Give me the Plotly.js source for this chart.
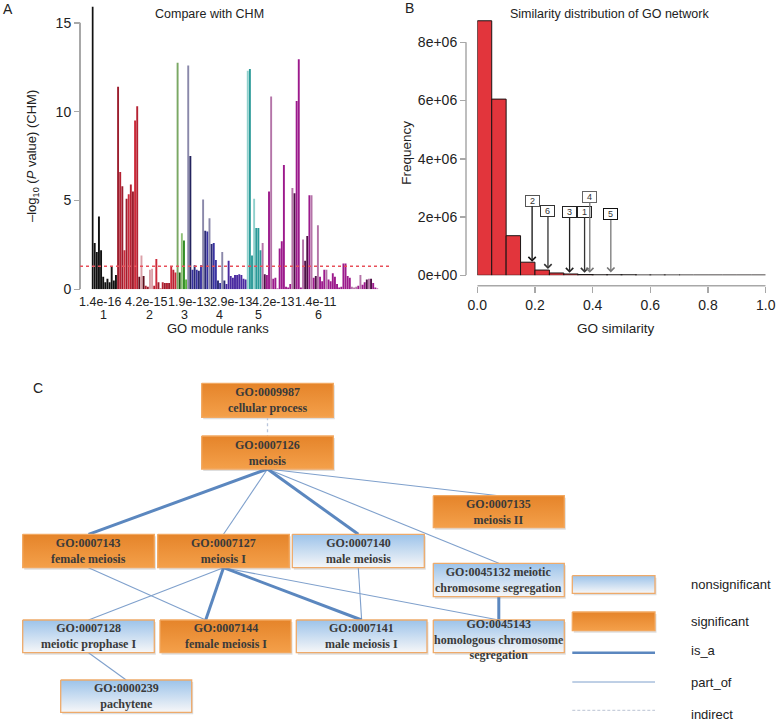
<!DOCTYPE html>
<html><head><meta charset="utf-8">
<script src="https://cdn.plot.ly/plotly-3.0.1.min.js"></script>
<style>body{margin:0;background:#fff}#g{width:778px;height:722px}</style>
</head><body><div id="g"></div>
<script>
// ================= DATA =================
// Panel A: -log10(P value) (CHM) per GO term, grouped by GO module
const mod1Vals = [15.9, 2.6, 2.1, 4.1, 2.2, 0.7, 0.4, 0.6, 0.4, 1.3, 0.5, 0.8];
const mod2Vals = [11.4, 6.6, 5.8, 2.2, 5.1, 5.35, 5.9, 5.5, 9.5, 10.3, 0.7, 1.9, 0.75, 0.2, 0.15, 1.1, 1.15, 0.2, 1.7, 0.4, 0.05, 0.4, 0.35, 0.35, 0.35, 1.3, 1.1, 0.95];
const mod3Vals = [12.75, 0.95, 3.15, 2.75, 0.55];
const mod4Vals = [12.6, 7.5, 1.1, 1.35, 1.1, 1.05, 1.35, 5.05, 3.3, 3.25, 4.0, 2.55, 2.6, 1.65, 0.5, 0.35, 2.1, 0.5, 0.3, 1.6, 0.75, 0.65, 0.8, 0.8, 0.85, 0.8, 0.6, 0.55];
const mod5Vals = [12.3, 12.4, 1.9, 5.1, 3.45, 3.45, 2.2];
const mod6Vals = [2.6, 0.85, 0.8, 5.5, 10.85, 0.6, 0.65, 0.05, 2.3, 2.7, 7.0, 0.15, 0.1, 0.3, 5.7, 5.4, 10.6, 12.95, 0.1, 2.8, 1.6, 3.0, 5.3, 5.3, 0.65, 0.75, 3.6, 0.7, 0.45, 1.1, 1.1, 0.55, 0.45, 0.9, 0.7, 0.3, 0.1, 0.15, 1.45, 1.45, 0.75, 0.65, 0.15, 0.1, 0.15, 0.2, 0.8, 0.25, 0.4, 0.55, 0.6, 0.6, 0.35, 0.1, 0.05];
const modulePvalLabels = ['1.4e-16', '4.2e-15', '1.9e-13', '2.9e-13', '4.2e-13', '1.4e-11'];
const moduleRankLabels = ['1', '2', '3', '4', '5', '6'];
const pThreshold = 1.3; // -log10(0.05)

// Panel B: histogram of GO similarity (bins of 0.05 from 0 to 1)
const simBinWidth = 0.05;
const simFreq = [8740000, 6050000, 1360000, 450000, 180000, 80000, 45000, 12000, 6000, 3000, 1500, 800, 400, 200, 100, 50, 30, 20, 10, 5];
const arrowModules = ['2', '6', '3', '1', '4', '5'];
const arrowSim = [0.19, 0.245, 0.32, 0.372, 0.39, 0.463];

// Panel C: GO network
const nodeIds = ['GO:0009987','GO:0007126','GO:0007143','GO:0007127','GO:0007140','GO:0007135','GO:0045132','GO:0007128','GO:0007144','GO:0007141','GO:0045143','GO:0000239'];
const nodeNames = ['cellular process','meiosis','female meiosis','meiosis I','male meiosis','meiosis II','meiotic chromosome segregation','meiotic prophase I','female meiosis I','male meiosis I','homologous chromosome segregation','pachytene'];
const nodeSignificant = [1,1,1,1,0,1,0,0,1,0,0,0];
const edgeFrom = ['GO:0009987','GO:0007126','GO:0007126','GO:0007126','GO:0007126','GO:0007126','GO:0007143','GO:0007127','GO:0007127','GO:0007127','GO:0007127','GO:0007140','GO:0045132','GO:0007128'];
const edgeTo   = ['GO:0007126','GO:0007143','GO:0007127','GO:0007140','GO:0007135','GO:0045132','GO:0007144','GO:0007128','GO:0007144','GO:0007141','GO:0045143','GO:0007141','GO:0045143','GO:0000239'];
const edgeType = ['indirect','is_a','part_of','is_a','part_of','part_of','part_of','part_of','is_a','is_a','part_of','part_of','is_a','part_of'];
const legendLabels = ['nonsignificant','significant','is_a','part_of','indirect'];

// ================= STYLE / LAYOUT =================
const W = 778, H = 722;
const px = v => v / W;          // pixel x -> paper
const py = v => 1 - v / H;      // pixel y -> paper
const FONT = 'Liberation Sans, Arial, sans-serif';
const SERIF = 'Liberation Serif, Times New Roman, serif';

const shadeMap = {
  k:'#111111',
  M:'#9c1e2e', R:'#b52232', B:'#cc2a3a', K:'#5e0e1c', P:'#dba0a8',
  G:'#8a88aa', N:'#24245e', U:'#3832a0', D:'#2a2a72', V:'#4a2aa0',
  T:'#2a9a98', L:'#8fd0cc',
  m:'#9c1a8c', l:'#b474a8', d:'#4e1046'
};
const mod1Shade = 'kkkkkkkkkkkk';
const mod2Shade = 'MRMBMBRMBRKPKRMPPRBMRRMRMBRB';
const mod3Colors = ['#7aa864','#1f5a16','#8fc078','#2f8c22','#5ab23e'];
const mod4Shade = 'GNUDUDUGDUGDUUDUGDVVVVVVVVVV';
const mod5Shade = 'LTTLTTT';
const mod6Shade = 'ldmmlmmmmmmmmmldmmmlddmlmdlmmmlmmmmmmmmmmmlllmlmmdldmmm';

const allVals = [].concat(mod1Vals, mod2Vals, mod3Vals, mod4Vals, mod5Vals, mod6Vals);
const colorsFrom = s => s.split('').map(c => shadeMap[c]);
const allColors = [].concat(colorsFrom(mod1Shade), colorsFrom(mod2Shade), mod3Colors,
  colorsFrom(mod4Shade), colorsFrom(mod5Shade), colorsFrom(mod6Shade));
const nBars = allVals.length;

const traces = [];
traces.push({
  type:'bar', x: allVals.map((_, i) => i), y: allVals,
  marker:{color: allColors, line:{width:0}},
  xaxis:'x', yaxis:'y', hoverinfo:'skip'
});

traces.push({
  type:'bar', x: simFreq.map((_, i) => (i + 0.5) * simBinWidth), y: simFreq,
  width: simBinWidth,
  marker:{color:'#e2353c', line:{color:'#1a1414', width: simFreq.map((_, i) => i < 7 ? 1 : 1.8)}},
  xaxis:'x2', yaxis:'y2', hoverinfo:'skip'
});

// Panel C node geometry (pixels): [x0, x1, y0, y1]
const nodeBox = {
  'GO:0009987':[201.7,333.3,383.3,417.3],
  'GO:0007126':[201.7,333.3,436,469],
  'GO:0007143':[22.7,154.3,534.3,567.7],
  'GO:0007127':[157.7,289.3,534.3,567.7],
  'GO:0007140':[292.3,424.3,534.3,567.7],
  'GO:0007135':[433.3,564.3,495.7,527.7],
  'GO:0045132':[433.3,564.3,563.3,596.7],
  'GO:0007128':[22.7,154.3,620,652.7],
  'GO:0007144':[160,291,620,652.7],
  'GO:0007141':[296.3,427,620,652.7],
  'GO:0045143':[433.3,564.3,620,652.7],
  'GO:0000239':[60.7,191.7,680,712.3]
};
const topAnchorX = {'GO:0007144':205.7};
const labelOverride = {
  'GO:0045132':'GO:0045132 meiotic<br>chromosome segregation',
  'GO:0045143':'GO:0045143<br>homologous chromosome<br>segregation'
};
const edgeStyle = {
  is_a:{color:'#5b87bf', width:3, dash:'solid'},
  part_of:{color:'#7fa0cc', width:1.1, dash:'solid'},
  indirect:{color:'#b9c5dc', width:1.3, dash:'3px,3px'}
};
const orangeScale = [[0,'#f4a04a'],[1,'#e5842a']];
const blueScale = [[0,'#f7f7f8'],[1,'#9cc3ea']];

// edges
['indirect','part_of','is_a'].forEach(t => {
  const xs = [], ys = [];
  edgeType.forEach((et, i) => {
    if (et !== t) return;
    const a = nodeBox[edgeFrom[i]], b = nodeBox[edgeTo[i]];
    xs.push((a[0]+a[1])/2, topAnchorX[edgeTo[i]] !== undefined ? topAnchorX[edgeTo[i]] : (b[0]+b[1])/2, null);
    ys.push(a[3], b[2], null);
  });
  traces.push({type:'scatter', mode:'lines', x:xs, y:ys, xaxis:'x3', yaxis:'y3',
    line:edgeStyle[t], hoverinfo:'skip'});
});

const shapes = [];
function boxTrace(b, sig) {
  shapes.push({type:'rect', xref:'x3', yref:'y3', x0:b[0]+1.5, x1:b[1]+1.5, y0:b[2]+2, y1:b[3]+2,
    fillcolor:'rgba(0,0,0,0.13)', line:{width:0}, layer:'below'});
  return {type:'scatter', mode:'lines', xaxis:'x3', yaxis:'y3', hoverinfo:'skip',
    x:[b[0],b[1],b[1],b[0],b[0]], y:[b[2],b[2],b[3],b[3],b[2]],
    fill:'toself', fillgradient:{type:'vertical', colorscale: sig ? orangeScale : blueScale},
    line:{color: sig ? '#f2a860' : '#eeaa6a', width:1.3}};
}
const annotations = [];
nodeIds.forEach((id, i) => {
  const b = nodeBox[id];
  traces.push(boxTrace(b, nodeSignificant[i]));
  annotations.push({xref:'x3', yref:'y3', x:(b[0]+b[1])/2, y:(b[2]+b[3])/2 + (id==='GO:0045143'?3:0),
    text:'<b>' + (labelOverride[id] || (id + '<br>' + nodeNames[i])) + '</b>',
    showarrow:false, font:{family:SERIF, size:12, color:'#3a3a3a'}, align:'center'});
});
// legend
traces.push(boxTrace([572.3,655,575.7,593.3], 0));
traces.push(boxTrace([572.3,655,612,630.7], 1));
traces.push({type:'scatter', mode:'lines', x:[572.3,655], y:[652.7,652.7], xaxis:'x3', yaxis:'y3', line:{color:'#5b87bf', width:2.5}, hoverinfo:'skip'});
traces.push({type:'scatter', mode:'lines', x:[572.3,655], y:[682,682], xaxis:'x3', yaxis:'y3', line:{color:'#7fa0cc', width:1}, hoverinfo:'skip'});
traces.push({type:'scatter', mode:'lines', x:[572.3,655], y:[710.3,710.3], xaxis:'x3', yaxis:'y3', line:{color:'#c8cfdc', width:1.2, dash:'3px,2px'}, hoverinfo:'skip'});
const legendY = [584.5, 621.5, 650.7, 682.7, 714];
legendLabels.forEach((t, i) => annotations.push({xref:'paper', yref:'paper', x:px(689.3), y:py(legendY[i]),
  xanchor:'left', yanchor:'middle', text:t, showarrow:false, font:{family:FONT, size:13, color:'#222'}}));

// Panel labels & titles
const txt = (x, y, t, size, extra) => Object.assign({xref:'paper', yref:'paper', x:px(x), y:py(y), text:t,
  showarrow:false, xanchor:'center', yanchor:'middle', font:{family:FONT, size:size, color:'#222'}}, extra || {});
annotations.push(txt(8, 9, 'A', 14));
annotations.push(txt(409, 8, 'B', 14));
annotations.push(txt(38, 388, 'C', 14));
annotations.push(txt(209, 14, 'Compare with CHM', 12.5));
annotations.push(txt(609, 14, 'Similarity distribution of GO network', 12.5));
annotations.push(txt(33, 156, '\u2013log<sub>10</sub> (<i>P</i> value) (CHM)', 13, {textangle:-90}));
annotations.push(txt(406.7, 153, 'Frequency', 13.5, {textangle:-90}));
annotations.push(txt(218, 328, 'GO module ranks', 13));
annotations.push(txt(615, 328, 'GO similarity', 13.5));
const pvalX = [100, 145.5, 189, 231, 273, 315.5];
const rankX = [103, 149, 184, 219, 258, 318];
modulePvalLabels.forEach((t, i) => annotations.push(txt(pvalX[i], 302, t, 12.5)));
moduleRankLabels.forEach((t, i) => annotations.push(txt(rankX[i], 315, t, 12.5)));

// Panel B arrows
const tipY = [467000, 216000, 89000, 89000, 89000, 100000];
const arrowAy = [-61, -58.5, -60.7, -60.7, -75.7, -58];
const arrowCol = ['#111','#333','#222','#333','#777','#777'];
const boxCol = ['#555','#333','#222','#222','#666','#111'];
arrowModules.forEach((m, i) => annotations.push({xref:'x2', yref:'y2', x:arrowSim[i], y:tipY[i],
  ax:0, ay:arrowAy[i], text:m, showarrow:true, arrowhead:4, arrowsize:1.1, arrowwidth:1.3,
  arrowcolor:arrowCol[i], bordercolor:boxCol[i], borderwidth:1, borderpad:1, bgcolor:'#fff',
  width:11, height:8, font:{family:FONT, size:9, color:'#333'}}));

const grey = '#a8a8a8';
shapes.push(
  {type:'line', xref:'paper', yref:'y', x0:px(80), x1:px(80), y0:0, y1:15, line:{color:grey, width:2}},
  {type:'line', xref:'paper', yref:'y', x0:px(80), x1:px(389), y0:pThreshold, y1:pThreshold, line:{color:'#e8505a', width:1.6, dash:'dot'}},
  {type:'line', xref:'paper', yref:'y2', x0:px(466), x1:px(466), y0:0, y1:8e6, line:{color:grey, width:1.5}},
  {type:'line', xref:'x2', yref:'paper', x0:0, x1:1, y0:py(285.7), y1:py(285.7), line:{color:grey, width:1.5}}
);

const tickfont = {family:FONT, size:14, color:'#222'};
const layout = {
  width:W, height:H, margin:{l:0,r:0,t:0,b:0}, paper_bgcolor:'#fff', plot_bgcolor:'rgba(0,0,0,0)',
  showlegend:false, bargap:0.1,
  xaxis:{domain:[px(91.5), px(378.5)], range:[-0.5, nBars-0.5], visible:false, anchor:'y'},
  yaxis:{domain:[py(289.3), py(5)], range:[0,16], anchor:'free', position:px(80), side:'left',
    tickvals:[0,5,10,15], ticks:'outside', ticklen:6, tickwidth:1.5, tickcolor:grey,
    showline:false, showgrid:false, zeroline:false, tickfont:tickfont},
  xaxis2:{domain:[px(477.3), px(765.7)], range:[0,1], anchor:'free', position:py(285.7),
    tickvals:[0,0.2,0.4,0.6,0.8,1], ticktext:['0.0','0.2','0.4','0.6','0.8','1.0'],
    ticks:'outside', ticklen:6, tickwidth:1.5, tickcolor:grey, showline:false, showgrid:false, zeroline:false, tickfont:tickfont},
  yaxis2:{domain:[py(275.3), py(13.2)], range:[0,9e6], anchor:'free', position:px(466),
    tickvals:[0,2e6,4e6,6e6,8e6], ticktext:['0e+00','2e+06','4e+06','6e+06','8e+06'],
    ticks:'outside', ticklen:6, tickwidth:1.5, tickcolor:grey, showline:false, showgrid:false, zeroline:false, tickfont:tickfont},
  xaxis3:{domain:[0,1], range:[0,W], visible:false, anchor:'y3', fixedrange:true},
  yaxis3:{domain:[0,1], range:[H,0], visible:false, anchor:'x3', fixedrange:true},
  annotations:annotations, shapes:shapes
};
Plotly.newPlot('g', traces, layout, {staticPlot:true, displayModeBar:false});
</script></body></html>
